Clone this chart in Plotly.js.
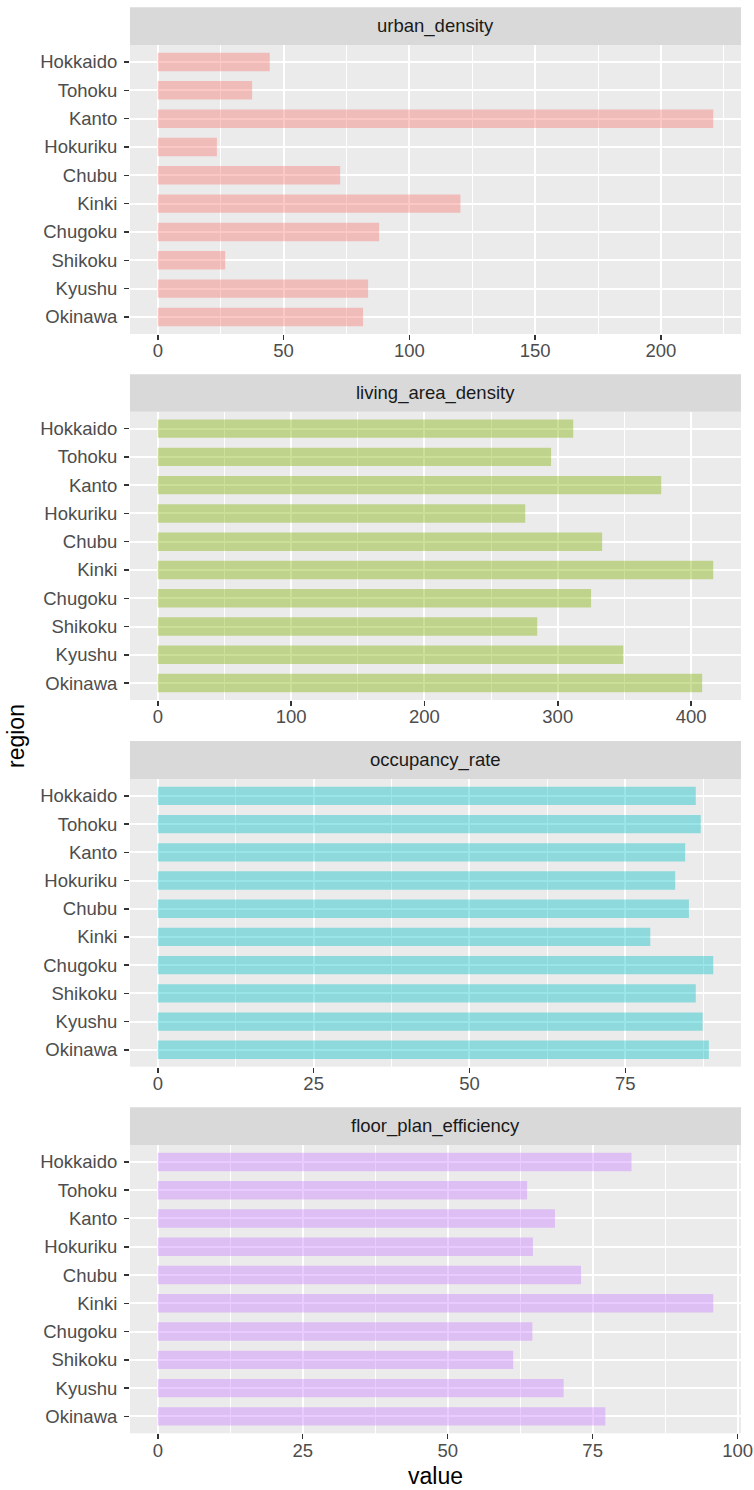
<!DOCTYPE html>
<html>
<head>
<meta charset="utf-8">
<script src="https://cdn.plot.ly/plotly-3.0.1.min.js"></script>
<style>html,body{margin:0;padding:0;background:#fff;}#chart{width:754px;height:1490px;}</style>
</head>
<body>
<div id="chart"></div>
<script>
const regions = ["Hokkaido","Tohoku","Kanto","Hokuriku","Chubu","Kinki","Chugoku","Shikoku","Kyushu","Okinawa"];
const urbanDensity = [44.5,37.5,220.8,23.5,72.5,120.3,88.0,26.8,83.6,81.6];
const livingAreaDensity = [311.6,295.0,377.6,275.6,333.3,416.6,325.0,284.6,349.1,408.3];
const occupancyRate = [86.3,87.1,84.6,83.0,85.2,79.0,89.1,86.3,87.4,88.4];
const floorPlanEfficiency = [81.7,63.7,68.5,64.7,73.0,95.8,64.6,61.3,70.0,77.2];
const facetNames = ["urban_density","living_area_density","occupancy_rate","floor_plan_efficiency"];
const facetValues = [urbanDensity, livingAreaDensity, occupancyRate, floorPlanEfficiency];
const facetColors = ["#F8766D","#7CAE00","#00BFC4","#C77CFF"];
const xTickSteps = [50,100,25,25];
const xAxisTitle = "value";
const yAxisTitle = "region";

const W = 754, H = 1490;
const panelLeft = 130, panelRight = 741;
const strips = [[7.3,45],[374.3,411.7],[741,779],[1107.3,1145]];
const plots = [[45,334],[411.7,700],[779,1066.7],[1145,1433.3]];
const FONT = "Liberation Sans, Arial, Helvetica, sans-serif";
const py = p => 1 - p / H;

const data = [];
const layout = {
  width: W, height: H,
  margin: {l:0, r:0, t:0, b:0},
  paper_bgcolor: "#FFFFFF",
  plot_bgcolor: "#EBEBEB",
  showlegend: false,
  font: {family: FONT, size: 18.5, color: "#4D4D4D"},
  bargap: 0.35,
  shapes: [],
  annotations: []
};

facetNames.forEach((name, i) => {
  const sfx = i === 0 ? "" : String(i + 1);
  const vals = facetValues[i];
  const mx = Math.max(...vals);
  data.push({
    type: "bar",
    orientation: "h",
    x: vals,
    y: regions,
    xaxis: "x" + sfx,
    yaxis: "y" + sfx,
    width: 0.65,
    marker: {color: facetColors[i], opacity: 0.4, line: {width: 0}},
    hoverinfo: "x+y"
  });
  layout["xaxis" + sfx] = {
    domain: [panelLeft / W, panelRight / W],
    anchor: "y" + sfx,
    range: [-0.05 * mx, 1.05 * mx],
    tick0: 0, dtick: xTickSteps[i],
    ticks: "outside", ticklen: 5, tickwidth: 1.5, tickcolor: "#333333",
    ticklabelstandoff: -5,
    showgrid: true, gridcolor: "#FFFFFF", gridwidth: 2,
    minor: {dtick: xTickSteps[i] / 2, tick0: 0, showgrid: true, gridcolor: "#FFFFFF", gridwidth: 1},
    zeroline: false, showline: false,
    tickfont: {family: FONT, size: 18.5, color: "#4D4D4D"},
    fixedrange: true
  };
  layout["yaxis" + sfx] = {
    domain: [py(plots[i][1]), py(plots[i][0])],
    anchor: "x" + sfx,
    type: "category",
    categoryorder: "array",
    categoryarray: regions,
    range: [regions.length - 0.4, -0.6],
    ticks: "outside", ticklen: 5, tickwidth: 1.5, tickcolor: "#333333",
    ticklabelstandoff: 3,
    showgrid: true, gridcolor: "#FFFFFF", gridwidth: 2,
    zeroline: false, showline: false,
    tickfont: {family: FONT, size: 18.5, color: "#4D4D4D"},
    fixedrange: true
  };
  layout.shapes.push({
    type: "rect", xref: "paper", yref: "paper", layer: "below",
    x0: panelLeft / W, x1: panelRight / W,
    y0: py(strips[i][1]), y1: py(strips[i][0]),
    fillcolor: "#D9D9D9", line: {width: 0}
  });
  layout.annotations.push({
    xref: "paper", yref: "paper",
    x: (panelLeft + panelRight) / 2 / W,
    y: py((strips[i][0] + strips[i][1]) / 2),
    xanchor: "center", yanchor: "middle",
    text: name, showarrow: false,
    font: {family: FONT, size: 18.5, color: "#1A1A1A"}
  });
});

layout.annotations.push({
  xref: "paper", yref: "paper",
  x: (panelLeft + panelRight) / 2 / W, y: py(1476),
  xanchor: "center", yanchor: "middle",
  text: xAxisTitle, showarrow: false,
  font: {family: FONT, size: 23, color: "#000000"}
});
layout.annotations.push({
  xref: "paper", yref: "paper",
  x: 16 / W, y: py(736),
  xanchor: "center", yanchor: "middle", textangle: -90,
  text: yAxisTitle, showarrow: false,
  font: {family: FONT, size: 23, color: "#000000"}
});

Plotly.newPlot("chart", data, layout, {displayModeBar: false, staticPlot: true});
</script>
</body>
</html>
